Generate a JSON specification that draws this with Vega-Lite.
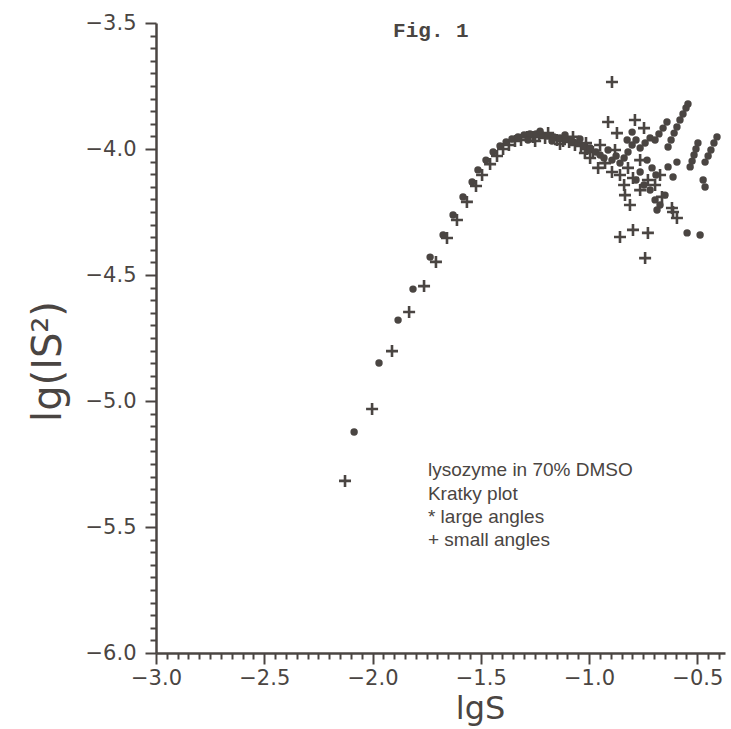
{
  "$schema": "https://vega.github.io/schema/vega-lite/v6.json",
  "width": 569,
  "height": 630,
  "autosize": {"type": "none"},
  "padding": {"left": 156, "top": 23, "right": 6, "bottom": 76},
  "background": "white",
  "config": {
    "view": {"stroke": null},
    "axis": {
      "grid": false,
      "domainColor": "#4a4542",
      "domainWidth": 2.5,
      "tickColor": "#4a4542",
      "tickWidth": 2,
      "labelColor": "#4a4542",
      "labelFont": "DejaVu Sans",
      "labelFontSize": 21,
      "labelFlush": false,
      "labelOverlap": false,
      "labelBound": false,
      "titleColor": "#4a4542",
      "titleFont": "DejaVu Sans",
      "titleFontWeight": "normal"
    }
  },
  "datasets": {
    "large": [
      {"lgS": -2.085, "lgIS2": -5.123}, {"lgS": -1.970, "lgIS2": -4.849}, {"lgS": -1.882, "lgIS2": -4.679},
      {"lgS": -1.813, "lgIS2": -4.556}, {"lgS": -1.734, "lgIS2": -4.429}, {"lgS": -1.674, "lgIS2": -4.341},
      {"lgS": -1.628, "lgIS2": -4.262}, {"lgS": -1.582, "lgIS2": -4.190}, {"lgS": -1.540, "lgIS2": -4.131},
      {"lgS": -1.513, "lgIS2": -4.083}, {"lgS": -1.476, "lgIS2": -4.044}, {"lgS": -1.443, "lgIS2": -4.012},
      {"lgS": -1.411, "lgIS2": -3.988},
      {"lgS": -1.383, "lgIS2": -3.972}, {"lgS": -1.356, "lgIS2": -3.960}, {"lgS": -1.328, "lgIS2": -3.952},
      {"lgS": -1.300, "lgIS2": -3.944}, {"lgS": -1.273, "lgIS2": -3.940}, {"lgS": -1.245, "lgIS2": -3.940},
      {"lgS": -1.217, "lgIS2": -3.944}, {"lgS": -1.189, "lgIS2": -3.948}, {"lgS": -1.162, "lgIS2": -3.952},
      {"lgS": -1.134, "lgIS2": -3.956}, {"lgS": -1.106, "lgIS2": -3.960}, {"lgS": -1.079, "lgIS2": -3.968},
      {"lgS": -1.051, "lgIS2": -3.976}, {"lgS": -1.023, "lgIS2": -3.988}, {"lgS": -0.995, "lgIS2": -3.996},
      {"lgS": -1.282, "lgIS2": -3.964}, {"lgS": -1.226, "lgIS2": -3.929}, {"lgS": -1.171, "lgIS2": -3.968},
      {"lgS": -1.111, "lgIS2": -3.944}, {"lgS": -1.042, "lgIS2": -3.960},
      {"lgS": -0.968, "lgIS2": -4.012}, {"lgS": -0.949, "lgIS2": -4.024}, {"lgS": -0.931, "lgIS2": -4.036},
      {"lgS": -0.912, "lgIS2": -4.004}, {"lgS": -0.894, "lgIS2": -4.044}, {"lgS": -0.875, "lgIS2": -4.028},
      {"lgS": -0.857, "lgIS2": -4.056}, {"lgS": -0.838, "lgIS2": -4.036}, {"lgS": -0.820, "lgIS2": -4.012},
      {"lgS": -0.801, "lgIS2": -3.984}, {"lgS": -0.783, "lgIS2": -3.964}, {"lgS": -0.824, "lgIS2": -3.964},
      {"lgS": -0.801, "lgIS2": -3.933}, {"lgS": -0.764, "lgIS2": -3.996}, {"lgS": -0.741, "lgIS2": -3.976},
      {"lgS": -0.718, "lgIS2": -3.956}, {"lgS": -0.732, "lgIS2": -4.044}, {"lgS": -0.709, "lgIS2": -4.075},
      {"lgS": -0.691, "lgIS2": -4.103}, {"lgS": -0.764, "lgIS2": -4.091}, {"lgS": -0.783, "lgIS2": -4.123},
      {"lgS": -0.746, "lgIS2": -4.143}, {"lgS": -0.718, "lgIS2": -4.163}, {"lgS": -0.695, "lgIS2": -4.202},
      {"lgS": -0.672, "lgIS2": -4.222}, {"lgS": -0.686, "lgIS2": -4.242}, {"lgS": -0.649, "lgIS2": -4.183},
      {"lgS": -0.695, "lgIS2": -3.964}, {"lgS": -0.677, "lgIS2": -3.940}, {"lgS": -0.658, "lgIS2": -3.917},
      {"lgS": -0.640, "lgIS2": -3.893},
      {"lgS": -0.635, "lgIS2": -3.992}, {"lgS": -0.621, "lgIS2": -3.964}, {"lgS": -0.607, "lgIS2": -3.937},
      {"lgS": -0.594, "lgIS2": -3.913}, {"lgS": -0.580, "lgIS2": -3.885}, {"lgS": -0.566, "lgIS2": -3.861},
      {"lgS": -0.552, "lgIS2": -3.837}, {"lgS": -0.543, "lgIS2": -3.821},
      {"lgS": -0.533, "lgIS2": -4.071}, {"lgS": -0.524, "lgIS2": -4.048}, {"lgS": -0.515, "lgIS2": -4.024},
      {"lgS": -0.506, "lgIS2": -4.000}, {"lgS": -0.497, "lgIS2": -3.976},
      {"lgS": -0.464, "lgIS2": -4.052}, {"lgS": -0.450, "lgIS2": -4.028}, {"lgS": -0.437, "lgIS2": -4.004},
      {"lgS": -0.423, "lgIS2": -3.976}, {"lgS": -0.409, "lgIS2": -3.952},
      {"lgS": -0.612, "lgIS2": -4.111}, {"lgS": -0.594, "lgIS2": -4.052}, {"lgS": -0.635, "lgIS2": -4.071},
      {"lgS": -0.473, "lgIS2": -4.123}, {"lgS": -0.464, "lgIS2": -4.151},
      {"lgS": -0.547, "lgIS2": -4.333}, {"lgS": -0.487, "lgIS2": -4.341}
    ],
    "small": [
      {"lgS": -2.127, "lgIS2": -5.317}, {"lgS": -2.002, "lgIS2": -5.032}, {"lgS": -1.910, "lgIS2": -4.802},
      {"lgS": -1.831, "lgIS2": -4.647}, {"lgS": -1.762, "lgIS2": -4.544}, {"lgS": -1.707, "lgIS2": -4.448},
      {"lgS": -1.656, "lgIS2": -4.353}, {"lgS": -1.610, "lgIS2": -4.282}, {"lgS": -1.564, "lgIS2": -4.210},
      {"lgS": -1.522, "lgIS2": -4.147}, {"lgS": -1.494, "lgIS2": -4.103}, {"lgS": -1.457, "lgIS2": -4.060},
      {"lgS": -1.425, "lgIS2": -4.028}, {"lgS": -1.397, "lgIS2": -4.000},
      {"lgS": -1.370, "lgIS2": -3.984}, {"lgS": -1.342, "lgIS2": -3.968}, {"lgS": -1.314, "lgIS2": -3.964},
      {"lgS": -1.286, "lgIS2": -3.952}, {"lgS": -1.259, "lgIS2": -3.952}, {"lgS": -1.231, "lgIS2": -3.948},
      {"lgS": -1.203, "lgIS2": -3.956}, {"lgS": -1.176, "lgIS2": -3.956}, {"lgS": -1.148, "lgIS2": -3.964},
      {"lgS": -1.120, "lgIS2": -3.968}, {"lgS": -1.092, "lgIS2": -3.972}, {"lgS": -1.065, "lgIS2": -3.984},
      {"lgS": -1.037, "lgIS2": -3.988}, {"lgS": -1.009, "lgIS2": -4.000}, {"lgS": -0.982, "lgIS2": -4.012},
      {"lgS": -1.249, "lgIS2": -3.968}, {"lgS": -1.189, "lgIS2": -3.937}, {"lgS": -1.134, "lgIS2": -3.980},
      {"lgS": -1.074, "lgIS2": -3.952}, {"lgS": -1.014, "lgIS2": -3.976},
      {"lgS": -0.894, "lgIS2": -3.734}, {"lgS": -0.912, "lgIS2": -3.893}, {"lgS": -0.788, "lgIS2": -3.885},
      {"lgS": -0.871, "lgIS2": -3.937}, {"lgS": -0.746, "lgIS2": -3.917}, {"lgS": -0.958, "lgIS2": -4.075},
      {"lgS": -0.926, "lgIS2": -4.056}, {"lgS": -0.894, "lgIS2": -4.091}, {"lgS": -0.857, "lgIS2": -4.103},
      {"lgS": -0.820, "lgIS2": -4.075}, {"lgS": -0.838, "lgIS2": -4.143}, {"lgS": -0.797, "lgIS2": -4.115},
      {"lgS": -0.764, "lgIS2": -4.163}, {"lgS": -0.728, "lgIS2": -4.123}, {"lgS": -0.695, "lgIS2": -4.143},
      {"lgS": -0.663, "lgIS2": -4.190}, {"lgS": -0.811, "lgIS2": -4.222}, {"lgS": -0.857, "lgIS2": -4.349},
      {"lgS": -0.797, "lgIS2": -4.321}, {"lgS": -0.728, "lgIS2": -4.333}, {"lgS": -0.741, "lgIS2": -4.433},
      {"lgS": -0.612, "lgIS2": -4.250}, {"lgS": -0.594, "lgIS2": -4.274}, {"lgS": -0.617, "lgIS2": -4.234},
      {"lgS": -0.949, "lgIS2": -3.984}, {"lgS": -0.880, "lgIS2": -4.004}, {"lgS": -0.834, "lgIS2": -4.183},
      {"lgS": -0.672, "lgIS2": -4.103}, {"lgS": -0.764, "lgIS2": -4.044}, {"lgS": -0.995, "lgIS2": -4.036},
      {"lgS": -1.019, "lgIS2": -4.016}
    ],
    "notes": [
      {"lgS": -1.744, "lgIS2": -5.298, "label": "lysozyme in 70% DMSO"},
      {"lgS": -1.744, "lgIS2": -5.393, "label": "Kratky plot"},
      {"lgS": -1.744, "lgIS2": -5.484, "label": "* large angles"},
      {"lgS": -1.744, "lgIS2": -5.575, "label": "+ small angles"}
    ],
    "fig": [
      {"lgS": -1.905, "lgIS2": -3.556, "label": "Fig. 1"}
    ]
  },
  "encoding": {
    "x": {
      "field": "lgS",
      "type": "quantitative",
      "scale": {"domain": [-3.0, -0.372], "nice": false, "zero": false},
      "axis": {
        "title": "lgS",
        "titleFontSize": 32,
        "titleX": 324,
        "titleY": 65,
        "titleAlign": "center",
        "titleBaseline": "alphabetic",
        "values": [-3.0, -2.95, -2.9, -2.85, -2.8, -2.75, -2.7, -2.65, -2.6, -2.55, -2.5, -2.45, -2.4, -2.35, -2.3, -2.25, -2.2, -2.15, -2.1, -2.05, -2.0, -1.95, -1.9, -1.85, -1.8, -1.75, -1.7, -1.65, -1.6, -1.55, -1.5, -1.45, -1.4, -1.35, -1.3, -1.25, -1.2, -1.15, -1.1, -1.05, -1.0, -0.95, -0.9, -0.85, -0.8, -0.75, -0.7, -0.65, -0.6, -0.55, -0.5, -0.45, -0.4],
        "labelExpr": "abs(datum.value*2 - round(datum.value*2)) < 0.001 ? format(datum.value, '.1f') : ''",
        "labelFontSize": 21,
        "tickSize": {"condition": {"test": "abs(datum.value*2 - round(datum.value*2)) < 0.001", "value": 11}, "value": 6},
        "labelPadding": 3
      }
    },
    "y": {
      "field": "lgIS2",
      "type": "quantitative",
      "scale": {"domain": [-6.0, -3.5], "nice": false, "zero": false},
      "axis": {
        "title": "lg(IS²)",
        "titleFontSize": 40,
        "titleAngle": 270,
        "titleX": -96,
        "titleY": 338,
        "titleAlign": "center",
        "titleBaseline": "alphabetic",
        "values": [-6.0, -5.95, -5.9, -5.85, -5.8, -5.75, -5.7, -5.65, -5.6, -5.55, -5.5, -5.45, -5.4, -5.35, -5.3, -5.25, -5.2, -5.15, -5.1, -5.05, -5.0, -4.95, -4.9, -4.85, -4.8, -4.75, -4.7, -4.65, -4.6, -4.55, -4.5, -4.45, -4.4, -4.35, -4.3, -4.25, -4.2, -4.15, -4.1, -4.05, -4.0, -3.95, -3.9, -3.85, -3.8, -3.75, -3.7, -3.65, -3.6, -3.55, -3.5],
        "labelExpr": "abs(datum.value*2 - round(datum.value*2)) < 0.001 ? format(datum.value, '.1f') : ''",
        "labelFontSize": 21,
        "tickSize": {"condition": {"test": "abs(datum.value*2 - round(datum.value*2)) < 0.001", "value": 11}, "value": 6},
        "labelPadding": 9
      }
    }
  },
  "layer": [
    {
      "data": {"name": "small"},
      "mark": {"type": "point", "shape": "M-1,0H1M0,-1V1", "filled": false, "size": 144, "strokeWidth": 2.6, "color": "#4a4542", "opacity": 1}
    },
    {
      "data": {"name": "large"},
      "mark": {"type": "point", "shape": "circle", "filled": true, "size": 55, "color": "#4a4542", "opacity": 1}
    },
    {
      "data": {"name": "notes"},
      "mark": {"type": "text", "align": "left", "baseline": "alphabetic", "font": "Liberation Sans", "fontSize": 19, "color": "#4a4542"},
      "encoding": {"text": {"field": "label"}}
    },
    {
      "data": {"name": "fig"},
      "mark": {"type": "text", "align": "left", "baseline": "alphabetic", "font": "Liberation Mono", "fontWeight": "bold", "fontSize": 21, "color": "#4a4542"},
      "encoding": {"text": {"field": "label"}}
    }
  ]
}
